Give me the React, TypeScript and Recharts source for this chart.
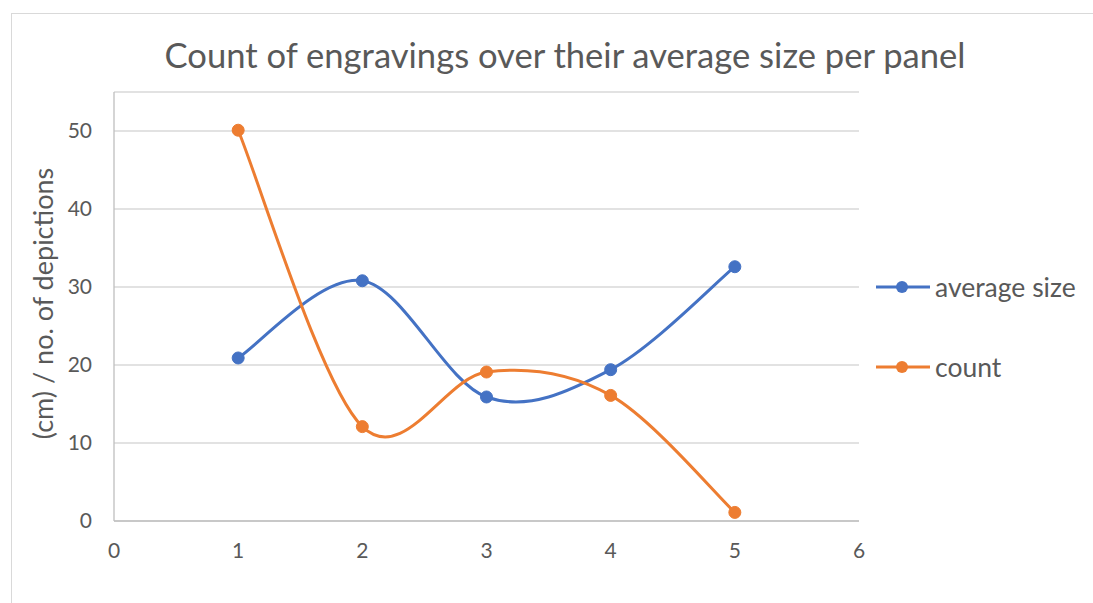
import React from 'react';
import { LineChart, Line, XAxis, YAxis, CartesianGrid } from 'recharts';

const panels = [1, 2, 3, 4, 5];
const averageSize = [20.9, 30.8, 15.9, 19.4, 32.6];
const countValues = [50.1, 12.1, 19.1, 16.1, 1.1];
const xTicks = [0, 1, 2, 3, 4, 5, 6];
const yTicks = [0, 10, 20, 30, 40, 50];
const seriesNames = ['average size', 'count'];
const colors = ['#4472C4', '#ED7D31'];

const data = panels.map((p, i) => ({ panel: p, avg: averageSize[i], count: countValues[i] }));

// Catmull-Rom (Excel-like smoothing) curve factory
function excelSmooth(context: any) {
  let pts: number[][] = [];
  return {
    areaStart() {},
    areaEnd() {},
    lineStart() { pts = []; },
    point(x: number, y: number) { pts.push([+x, +y]); },
    lineEnd() {
      if (!pts.length) return;
      context.moveTo(pts[0][0], pts[0][1]);
      for (let i = 0; i < pts.length - 1; i++) {
        const p0 = pts[i - 1] || pts[i];
        const p1 = pts[i];
        const p2 = pts[i + 1];
        const p3 = pts[i + 2] || pts[i + 1];
        context.bezierCurveTo(
          p1[0] + (p2[0] - p0[0]) / 6, p1[1] + (p2[1] - p0[1]) / 6,
          p2[0] - (p3[0] - p1[0]) / 6, p2[1] - (p3[1] - p1[1]) / 6,
          p2[0], p2[1]
        );
      }
    },
  };
}

const FONT = 'Lato, "Open Sans", sans-serif';
const TXT = '#595959';

const LegendBox = () => (
  <div style={{ position: 'absolute', left: 875, top: 247, fontFamily: FONT, color: TXT }}>
    {seriesNames.map((n, i) => (
      <div key={n} style={{ display: 'flex', alignItems: 'center', height: 80 }}>
        <svg width={56} height={16} style={{ display: 'block' }}>
          <line x1={1} y1={8} x2={55} y2={8} stroke={colors[i]} strokeWidth={3} />
          <circle cx={27} cy={8} r={6} fill={colors[i]} />
        </svg>
        <span style={{ fontSize: 26.5, marginLeft: 4, lineHeight: '28px', whiteSpace: 'nowrap' }}>{n}</span>
      </div>
    ))}
  </div>
);

const YLabel = (props: any) => {
  const vb = props.viewBox || {};
  const cy = vb.y + vb.height / 2 - 3;
  return (
    <text x={42} y={cy} transform={`rotate(-90, 42, ${cy})`} textAnchor="middle" dominantBaseline="central"
      fontFamily={FONT} fontSize={27} fill={TXT}>
      (cm) / no. of depictions
    </text>
  );
};

export default function App() {
  return (
    <div style={{ position: 'absolute', left: 0, top: 0, width: 1093, height: 603, background: '#fff', overflow: 'hidden' }}>
      <div style={{ position: 'absolute', left: 11, top: 13, width: 1200, height: 700, border: '1px solid #D9D9D9', boxSizing: 'border-box' }} />
      <div style={{ position: 'absolute', left: 0, width: 1130, top: 34, textAlign: 'center', fontFamily: FONT, fontSize: 34.6, color: TXT, whiteSpace: 'nowrap' }}>
        Count of engravings over their average size per panel
      </div>
      <div style={{ position: 'absolute', left: 0, top: 0 }}>
        <LineChart width={1093} height={603} data={data} margin={{ top: 92, right: 234, bottom: 52, left: 54 }}>
          <CartesianGrid horizontal vertical={false} stroke="#D9D9D9" strokeWidth={1.3} />
          <XAxis dataKey="panel" type="number" domain={[0, 6]} ticks={xTicks} interval={0} height={30}
            axisLine={{ stroke: '#BFBFBF', strokeWidth: 1.3 }} tickLine={false} tickSize={0} tickMargin={22}
            tick={{ fill: TXT, fontSize: 21, fontFamily: FONT }} />
          <YAxis type="number" domain={[0, 55]} ticks={yTicks} interval={0} width={60}
            axisLine={{ stroke: '#BFBFBF', strokeWidth: 1.3 }} tickLine={false} tickSize={0} tickMargin={22}
            tick={{ fill: TXT, fontSize: 21, fontFamily: FONT }} label={<YLabel />} />
          <Line dataKey="avg" name={seriesNames[0]} type={excelSmooth as any} stroke={colors[0]} strokeWidth={3}
            dot={{ r: 6, fill: colors[0], stroke: colors[0], strokeWidth: 1 }} isAnimationActive={false} />
          <Line dataKey="count" name={seriesNames[1]} type={excelSmooth as any} stroke={colors[1]} strokeWidth={3}
            dot={{ r: 6, fill: colors[1], stroke: colors[1], strokeWidth: 1 }} isAnimationActive={false} />
        </LineChart>
      </div>
      <LegendBox />
    </div>
  );
}
